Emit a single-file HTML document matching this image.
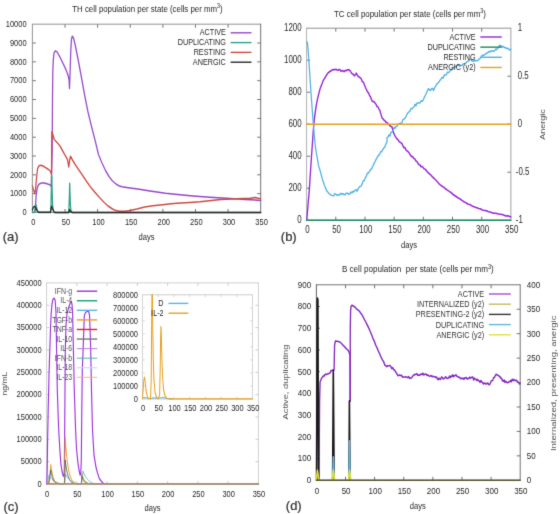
<!DOCTYPE html>
<html><head><meta charset="utf-8"><style>
html,body{margin:0;padding:0;background:#fff;}
svg{display:block;}
text{font-family:"Liberation Sans", sans-serif;}
</style></head><body>
<svg width="560" height="514" viewBox="0 0 560 514">
<defs><filter id="bl" x="0" y="0" width="560" height="514" filterUnits="userSpaceOnUse" color-interpolation-filters="sRGB"><feConvolveMatrix order="3" kernelMatrix="0.01134 0.08382 0.01134 0.08382 0.61935 0.08382 0.01134 0.08382 0.01134" edgeMode="duplicate" preserveAlpha="true"/></filter></defs>
<rect width="560" height="514" fill="#fff"/>
<g filter="url(#bl)"><rect width="560" height="514" fill="#fff"/>
<g transform="scale(0.84 1)">
<text x="0" y="0" font-size="8.93" text-anchor="end" fill="#262626" transform="translate(31.67 215.20)">0</text>
<line x1="38.57" y1="193.67" x2="42.74" y2="193.67" stroke="#555" stroke-width="0.9"/>
<line x1="310.36" y1="193.67" x2="306.19" y2="193.67" stroke="#555" stroke-width="0.9"/>
<text x="0" y="0" font-size="8.93" text-anchor="end" fill="#262626" transform="translate(31.67 196.37)">1000</text>
<line x1="38.57" y1="174.84" x2="42.74" y2="174.84" stroke="#555" stroke-width="0.9"/>
<line x1="310.36" y1="174.84" x2="306.19" y2="174.84" stroke="#555" stroke-width="0.9"/>
<text x="0" y="0" font-size="8.93" text-anchor="end" fill="#262626" transform="translate(31.67 177.54)">2000</text>
<line x1="38.57" y1="156.01" x2="42.74" y2="156.01" stroke="#555" stroke-width="0.9"/>
<line x1="310.36" y1="156.01" x2="306.19" y2="156.01" stroke="#555" stroke-width="0.9"/>
<text x="0" y="0" font-size="8.93" text-anchor="end" fill="#262626" transform="translate(31.67 158.71)">3000</text>
<line x1="38.57" y1="137.18" x2="42.74" y2="137.18" stroke="#555" stroke-width="0.9"/>
<line x1="310.36" y1="137.18" x2="306.19" y2="137.18" stroke="#555" stroke-width="0.9"/>
<text x="0" y="0" font-size="8.93" text-anchor="end" fill="#262626" transform="translate(31.67 139.88)">4000</text>
<line x1="38.57" y1="118.35" x2="42.74" y2="118.35" stroke="#555" stroke-width="0.9"/>
<line x1="310.36" y1="118.35" x2="306.19" y2="118.35" stroke="#555" stroke-width="0.9"/>
<text x="0" y="0" font-size="8.93" text-anchor="end" fill="#262626" transform="translate(31.67 121.05)">5000</text>
<line x1="38.57" y1="99.52" x2="42.74" y2="99.52" stroke="#555" stroke-width="0.9"/>
<line x1="310.36" y1="99.52" x2="306.19" y2="99.52" stroke="#555" stroke-width="0.9"/>
<text x="0" y="0" font-size="8.93" text-anchor="end" fill="#262626" transform="translate(31.67 102.22)">6000</text>
<line x1="38.57" y1="80.69" x2="42.74" y2="80.69" stroke="#555" stroke-width="0.9"/>
<line x1="310.36" y1="80.69" x2="306.19" y2="80.69" stroke="#555" stroke-width="0.9"/>
<text x="0" y="0" font-size="8.93" text-anchor="end" fill="#262626" transform="translate(31.67 83.39)">7000</text>
<line x1="38.57" y1="61.86" x2="42.74" y2="61.86" stroke="#555" stroke-width="0.9"/>
<line x1="310.36" y1="61.86" x2="306.19" y2="61.86" stroke="#555" stroke-width="0.9"/>
<text x="0" y="0" font-size="8.93" text-anchor="end" fill="#262626" transform="translate(31.67 64.56)">8000</text>
<line x1="38.57" y1="43.03" x2="42.74" y2="43.03" stroke="#555" stroke-width="0.9"/>
<line x1="310.36" y1="43.03" x2="306.19" y2="43.03" stroke="#555" stroke-width="0.9"/>
<text x="0" y="0" font-size="8.93" text-anchor="end" fill="#262626" transform="translate(31.67 45.73)">9000</text>
<text x="0" y="0" font-size="8.93" text-anchor="end" fill="#262626" transform="translate(31.67 26.90)">10000</text>
<text x="0" y="0" font-size="8.93" text-anchor="middle" fill="#262626" transform="translate(39.64 225.00)">0</text>
<line x1="77.40" y1="212.50" x2="77.40" y2="209.00" stroke="#555" stroke-width="0.9"/>
<line x1="77.40" y1="24.20" x2="77.40" y2="27.70" stroke="#555" stroke-width="0.9"/>
<text x="0" y="0" font-size="8.93" text-anchor="middle" fill="#262626" transform="translate(78.47 225.00)">50</text>
<line x1="116.22" y1="212.50" x2="116.22" y2="209.00" stroke="#555" stroke-width="0.9"/>
<line x1="116.22" y1="24.20" x2="116.22" y2="27.70" stroke="#555" stroke-width="0.9"/>
<text x="0" y="0" font-size="8.93" text-anchor="middle" fill="#262626" transform="translate(117.30 225.00)">100</text>
<line x1="155.05" y1="212.50" x2="155.05" y2="209.00" stroke="#555" stroke-width="0.9"/>
<line x1="155.05" y1="24.20" x2="155.05" y2="27.70" stroke="#555" stroke-width="0.9"/>
<text x="0" y="0" font-size="8.93" text-anchor="middle" fill="#262626" transform="translate(156.12 225.00)">150</text>
<line x1="193.88" y1="212.50" x2="193.88" y2="209.00" stroke="#555" stroke-width="0.9"/>
<line x1="193.88" y1="24.20" x2="193.88" y2="27.70" stroke="#555" stroke-width="0.9"/>
<text x="0" y="0" font-size="8.93" text-anchor="middle" fill="#262626" transform="translate(194.95 225.00)">200</text>
<line x1="232.70" y1="212.50" x2="232.70" y2="209.00" stroke="#555" stroke-width="0.9"/>
<line x1="232.70" y1="24.20" x2="232.70" y2="27.70" stroke="#555" stroke-width="0.9"/>
<text x="0" y="0" font-size="8.93" text-anchor="middle" fill="#262626" transform="translate(233.78 225.00)">250</text>
<line x1="271.53" y1="212.50" x2="271.53" y2="209.00" stroke="#555" stroke-width="0.9"/>
<line x1="271.53" y1="24.20" x2="271.53" y2="27.70" stroke="#555" stroke-width="0.9"/>
<text x="0" y="0" font-size="8.93" text-anchor="middle" fill="#262626" transform="translate(272.60 225.00)">300</text>
<text x="0" y="0" font-size="8.93" text-anchor="middle" fill="#262626" transform="translate(311.43 225.00)">350</text>
<text x="0" y="0" font-size="9.05" text-anchor="middle" fill="#262626" transform="translate(174.40 239.50)">days</text>
<text x="0" y="0" font-size="13.40" text-anchor="start" fill="#333" transform="translate(3.33 241.20) scale(1.1548 1)" stroke="#333" stroke-width="0.25">(a)</text>
<text x="0" y="0" font-size="9.35" text-anchor="start" fill="#262626" transform="translate(86.07 11.80)">TH cell population per state (cells per mm<tspan font-size="6.3" dy="-3.4">3</tspan><tspan dy="3.4">)</tspan></text>
<line x1="38.57" y1="24.20" x2="310.36" y2="24.20" stroke="#8a8a8a" stroke-width="1"/>
<line x1="38.57" y1="212.50" x2="310.36" y2="212.50" stroke="#8a8a8a" stroke-width="1"/>
<line x1="38.57" y1="23.70" x2="38.57" y2="213.00" stroke="#888" stroke-width="1"/>
<line x1="310.36" y1="23.70" x2="310.36" y2="213.00" stroke="#666" stroke-width="1"/>
<polyline points="38.57,212.40 41.67,212.30 42.26,205.00 43.10,195.00 44.05,189.50 45.24,185.80 46.43,184.20 49.29,182.90 52.38,183.00 55.95,183.80 58.93,184.60 60.48,185.50 61.07,186.50 62.14,150.00 62.50,100.00 62.86,72.00 63.45,60.00 64.29,53.20 65.83,50.80 67.86,51.80 71.43,57.20 73.81,61.30 76.31,65.60 78.57,69.80 80.48,74.00 81.67,77.50 82.26,80.00 82.74,88.50 83.33,75.00 84.29,50.00 85.12,39.00 86.07,36.20 87.50,38.00 89.29,44.00 93.10,60.00 96.43,75.00 100.95,96.00 104.76,112.00 108.81,126.00 113.10,140.00 117.26,154.50 121.43,163.00 125.60,170.50 129.76,176.50 133.93,181.00 138.10,184.00 142.26,186.10 145.24,186.80 154.76,188.00 163.93,189.00 178.57,191.00 196.90,193.20 214.29,194.80 229.76,196.00 250.00,197.20 269.29,198.20 291.67,199.40 310.36,200.40" fill="none" stroke="#9448c8" stroke-width="1.5" stroke-linejoin="round" stroke-linecap="round" opacity="1"/>
<polyline points="38.57,212.40 41.07,212.00 42.02,208.00 42.74,204.40 43.45,207.00 44.64,211.50 46.43,212.40 60.24,212.40 60.71,205.00 61.07,190.00 61.31,175.00 61.67,176.00 62.14,192.00 62.62,205.00 63.33,210.50 64.52,212.40 81.67,212.40 82.26,205.00 82.62,195.00 82.98,183.20 83.33,193.00 83.81,205.00 84.52,210.50 85.71,212.40 310.36,212.40" fill="none" stroke="#2fa088" stroke-width="1.5" stroke-linejoin="round" stroke-linecap="round" opacity="1"/>
<polyline points="38.57,186.00 39.88,190.00 41.43,193.50 42.26,190.00 43.45,178.00 44.76,168.50 46.43,165.80 48.57,165.20 51.19,166.00 54.76,167.80 57.74,169.50 59.88,171.00 60.83,173.50 61.31,174.00 61.67,132.00 62.14,131.50 63.10,135.00 64.64,139.50 67.86,142.50 71.43,146.00 75.00,151.50 77.74,155.60 80.36,159.50 81.90,167.00 82.98,160.00 83.93,156.20 86.31,160.00 89.29,164.30 92.26,167.90 97.62,174.50 102.68,181.00 107.74,187.00 113.10,192.40 118.45,197.50 123.51,202.00 128.57,206.00 133.93,209.00 138.10,210.60 142.26,211.20 148.81,211.20 154.76,210.40 163.10,209.00 172.14,207.10 182.14,205.80 193.45,204.80 203.57,203.80 214.76,203.00 226.19,202.40 238.10,201.80 262.74,199.60 282.50,198.70 297.62,198.30 303.93,197.40 307.14,198.20 310.36,198.70" fill="none" stroke="#cc4a42" stroke-width="1.5" stroke-linejoin="round" stroke-linecap="round" opacity="1"/>
<polyline points="38.57,210.00 39.52,207.50 40.95,206.30 42.26,207.50 44.05,210.50 45.83,212.30 60.12,212.30 60.95,208.00 61.55,206.30 62.50,208.50 64.29,211.80 65.48,212.40 81.90,212.40 82.86,209.50 83.93,211.50 85.71,212.40 310.36,212.40" fill="none" stroke="#2a2a2a" stroke-width="1.5" stroke-linejoin="round" stroke-linecap="round" opacity="1"/>
<text x="0" y="0" font-size="8.63" text-anchor="end" fill="#262626" transform="translate(268.81 35.40)">ACTIVE</text>
<line x1="274.52" y1="32.80" x2="299.40" y2="32.80" stroke="#9448c8" stroke-width="1.4"/>
<text x="0" y="0" font-size="8.63" text-anchor="end" fill="#262626" transform="translate(268.81 45.20)">DUPLICATING</text>
<line x1="274.52" y1="42.60" x2="299.40" y2="42.60" stroke="#2fa088" stroke-width="1.4"/>
<text x="0" y="0" font-size="8.63" text-anchor="end" fill="#262626" transform="translate(268.81 55.00)">RESTING</text>
<line x1="274.52" y1="52.40" x2="299.40" y2="52.40" stroke="#cc4a42" stroke-width="1.4"/>
<text x="0" y="0" font-size="8.63" text-anchor="end" fill="#262626" transform="translate(268.81 64.80)">ANERGIC</text>
<line x1="274.52" y1="62.20" x2="299.40" y2="62.20" stroke="#2a2a2a" stroke-width="1.4"/>
<text x="0" y="0" font-size="10.13" text-anchor="end" fill="#262626" transform="translate(359.05 223.00) scale(0.9286 1)">0</text>
<line x1="365.00" y1="188.20" x2="369.17" y2="188.20" stroke="#555" stroke-width="0.9"/>
<text x="0" y="0" font-size="10.13" text-anchor="end" fill="#262626" transform="translate(359.05 191.00) scale(0.9286 1)">200</text>
<line x1="365.00" y1="156.20" x2="369.17" y2="156.20" stroke="#555" stroke-width="0.9"/>
<text x="0" y="0" font-size="10.13" text-anchor="end" fill="#262626" transform="translate(359.05 159.00) scale(0.9286 1)">400</text>
<line x1="365.00" y1="124.20" x2="369.17" y2="124.20" stroke="#555" stroke-width="0.9"/>
<text x="0" y="0" font-size="10.13" text-anchor="end" fill="#262626" transform="translate(359.05 127.00) scale(0.9286 1)">600</text>
<line x1="365.00" y1="92.20" x2="369.17" y2="92.20" stroke="#555" stroke-width="0.9"/>
<text x="0" y="0" font-size="10.13" text-anchor="end" fill="#262626" transform="translate(359.05 95.00) scale(0.9286 1)">800</text>
<line x1="365.00" y1="60.20" x2="369.17" y2="60.20" stroke="#555" stroke-width="0.9"/>
<text x="0" y="0" font-size="10.13" text-anchor="end" fill="#262626" transform="translate(359.05 63.00) scale(0.9286 1)">1000</text>
<text x="0" y="0" font-size="10.13" text-anchor="end" fill="#262626" transform="translate(359.05 31.00) scale(0.9286 1)">1200</text>
<text x="0" y="0" font-size="10.13" text-anchor="middle" fill="#262626" transform="translate(365.95 233.40) scale(0.9286 1)">0</text>
<line x1="399.74" y1="220.20" x2="399.74" y2="216.70" stroke="#555" stroke-width="0.9"/>
<line x1="399.74" y1="28.20" x2="399.74" y2="31.70" stroke="#555" stroke-width="0.9"/>
<text x="0" y="0" font-size="10.13" text-anchor="middle" fill="#262626" transform="translate(400.70 233.40) scale(0.9286 1)">50</text>
<line x1="434.49" y1="220.20" x2="434.49" y2="216.70" stroke="#555" stroke-width="0.9"/>
<line x1="434.49" y1="28.20" x2="434.49" y2="31.70" stroke="#555" stroke-width="0.9"/>
<text x="0" y="0" font-size="10.13" text-anchor="middle" fill="#262626" transform="translate(435.44 233.40) scale(0.9286 1)">100</text>
<line x1="469.23" y1="220.20" x2="469.23" y2="216.70" stroke="#555" stroke-width="0.9"/>
<line x1="469.23" y1="28.20" x2="469.23" y2="31.70" stroke="#555" stroke-width="0.9"/>
<text x="0" y="0" font-size="10.13" text-anchor="middle" fill="#262626" transform="translate(470.19 233.40) scale(0.9286 1)">150</text>
<line x1="503.98" y1="220.20" x2="503.98" y2="216.70" stroke="#555" stroke-width="0.9"/>
<line x1="503.98" y1="28.20" x2="503.98" y2="31.70" stroke="#555" stroke-width="0.9"/>
<text x="0" y="0" font-size="10.13" text-anchor="middle" fill="#262626" transform="translate(504.93 233.40) scale(0.9286 1)">200</text>
<line x1="538.72" y1="220.20" x2="538.72" y2="216.70" stroke="#555" stroke-width="0.9"/>
<line x1="538.72" y1="28.20" x2="538.72" y2="31.70" stroke="#555" stroke-width="0.9"/>
<text x="0" y="0" font-size="10.13" text-anchor="middle" fill="#262626" transform="translate(539.68 233.40) scale(0.9286 1)">250</text>
<line x1="573.47" y1="220.20" x2="573.47" y2="216.70" stroke="#555" stroke-width="0.9"/>
<line x1="573.47" y1="28.20" x2="573.47" y2="31.70" stroke="#555" stroke-width="0.9"/>
<text x="0" y="0" font-size="10.13" text-anchor="middle" fill="#262626" transform="translate(574.42 233.40) scale(0.9286 1)">300</text>
<text x="0" y="0" font-size="10.13" text-anchor="middle" fill="#262626" transform="translate(609.17 233.40) scale(0.9286 1)">350</text>
<text x="0" y="0" font-size="10.13" text-anchor="start" fill="#262626" transform="translate(616.31 31.00) scale(0.9286 1)">1</text>
<line x1="608.21" y1="76.20" x2="604.05" y2="76.20" stroke="#555" stroke-width="0.9"/>
<text x="0" y="0" font-size="10.13" text-anchor="start" fill="#262626" transform="translate(616.31 79.00) scale(0.9286 1)">0.5</text>
<line x1="608.21" y1="124.20" x2="604.05" y2="124.20" stroke="#555" stroke-width="0.9"/>
<text x="0" y="0" font-size="10.13" text-anchor="start" fill="#262626" transform="translate(616.31 127.00) scale(0.9286 1)">0</text>
<line x1="608.21" y1="172.20" x2="604.05" y2="172.20" stroke="#555" stroke-width="0.9"/>
<text x="0" y="0" font-size="10.13" text-anchor="start" fill="#262626" transform="translate(614.05 175.00) scale(0.9286 1)">-0.5</text>
<text x="0" y="0" font-size="10.13" text-anchor="start" fill="#262626" transform="translate(614.05 223.00) scale(0.9286 1)">-1</text>
<text x="0" y="0" font-size="9.74" text-anchor="middle" fill="#262626" transform="translate(486.90 248.30) scale(0.9286 1)">days</text>
<text x="0" y="0" font-size="13.40" text-anchor="start" fill="#333" transform="translate(334.29 241.00) scale(1.1548 1)" stroke="#333" stroke-width="0.25">(b)</text>
<text x="0" y="0" font-size="9.46" text-anchor="start" fill="#262626" transform="translate(397.62 16.60)">TC cell population per state (cells per mm<tspan font-size="6.3" dy="-3.4">3</tspan><tspan dy="3.4">)</tspan></text>
<text x="0" y="0" font-size="9.0" text-anchor="middle" fill="#4a4a4a" transform="translate(649.40 124.60) scale(1.0000 1) rotate(-90)">Anergic</text>
<line x1="365.00" y1="28.20" x2="608.21" y2="28.20" stroke="#858585" stroke-width="1"/>
<line x1="365.00" y1="220.20" x2="608.21" y2="220.20" stroke="#858585" stroke-width="1"/>
<line x1="365.00" y1="27.70" x2="365.00" y2="220.70" stroke="#aaa" stroke-width="1"/>
<line x1="608.21" y1="27.70" x2="608.21" y2="220.70" stroke="#999" stroke-width="1"/>
<polyline points="365.24,220.00 366.67,205.00 368.10,191.40 369.29,176.00 370.48,160.80 371.79,145.00 372.98,130.20 374.40,118.00 376.19,107.00 377.98,98.90 379.46,93.95 380.95,89.00 382.26,86.13 383.57,83.27 384.88,80.40 386.49,78.20 388.10,76.00 389.40,74.35 390.71,72.70 392.86,71.50 394.11,70.80 395.36,70.10 396.90,69.48 398.45,69.77 400.00,69.29 401.19,69.92 402.38,70.20 403.57,69.55 404.76,69.72 405.95,71.27 407.14,70.58 408.33,70.77 409.52,71.66 410.71,70.49 411.90,70.74 413.39,69.86 414.88,69.82 416.37,70.24 417.86,72.22 419.17,73.72 420.48,74.30 421.79,75.79 422.98,74.87 424.17,73.10 425.63,75.61 427.10,76.75 428.57,77.68 429.96,78.72 431.35,81.52 432.74,82.36 433.93,85.02 435.12,87.54 436.31,89.54 437.50,91.81 438.69,92.90 439.88,95.48 441.07,96.88 442.26,99.63 443.45,101.51 444.94,101.56 446.43,102.92 447.62,104.21 448.81,106.58 450.00,106.90 451.19,109.20 452.38,110.68 453.57,114.51 454.76,117.82 455.95,118.76 457.14,120.14 458.33,120.88 459.52,122.15 460.71,122.54 461.90,123.69 463.10,124.57 464.29,125.79 465.48,126.52 466.67,126.96 467.86,130.83 469.05,133.74 470.24,135.90 471.43,137.61 472.62,139.09 473.81,139.54 475.00,141.53 476.19,142.12 477.38,142.82 478.57,143.63 479.76,146.07 480.95,147.66 482.14,147.59 483.33,150.11 484.52,150.86 485.90,151.70 487.29,153.19 488.67,155.21 490.05,156.64 491.43,156.57 492.65,158.58 493.88,158.77 495.10,160.95 496.33,161.43 497.55,163.41 498.78,164.67 500.00,165.01 501.19,166.74 502.38,166.57 503.57,167.14 504.76,168.91 505.95,168.94 507.14,170.14 508.33,171.42 509.52,172.50 511.31,173.82 513.10,175.22 514.88,176.93 516.67,178.26 518.81,180.00 520.95,182.03 523.10,184.19 524.90,185.33 526.71,186.53 528.52,187.37 530.33,188.81 532.14,189.84 533.95,190.83 535.76,191.84 537.57,192.98 539.38,194.54 541.19,195.53 543.39,196.81 545.60,198.11 547.80,198.99 550.00,200.37 551.86,201.45 553.71,202.38 555.57,203.33 557.43,204.21 559.29,204.51 561.43,205.67 563.57,206.52 565.71,207.20 567.86,207.77 569.76,208.48 571.67,208.71 573.57,209.80 575.48,210.26 577.38,210.53 579.46,210.86 581.55,211.79 583.63,212.05 585.71,212.77 587.67,213.10 589.62,213.23 591.57,213.52 593.52,214.01 595.48,214.25 597.78,214.56 600.08,215.16 602.38,216.02 604.29,215.88 606.19,216.28 608.10,217.00" fill="none" stroke="#9424d8" stroke-width="1.6" stroke-linejoin="round" stroke-linecap="round" opacity="1"/>
<polyline points="365.00,220.20 608.21,220.20" fill="none" stroke="#1a8a60" stroke-width="1.6" stroke-linejoin="round" stroke-linecap="round" opacity="1"/>
<polyline points="365.24,41.50 366.07,43.00 367.26,55.00 369.05,78.00 370.83,100.00 372.98,124.00 374.17,135.25 375.36,146.50 376.59,152.63 377.82,158.77 379.05,164.90 380.30,168.45 381.55,172.00 383.81,179.20 385.06,182.35 386.31,185.50 387.50,187.95 388.69,190.40 390.18,191.97 391.67,193.53 393.13,194.35 394.60,195.37 396.07,195.63 397.38,195.83 398.69,193.66 400.00,194.42 401.43,195.38 402.86,194.63 404.29,195.08 405.71,193.25 406.96,194.13 408.21,193.74 409.46,194.50 410.71,194.66 411.90,193.18 413.10,193.38 414.29,193.26 415.48,194.42 416.67,193.71 417.86,192.00 419.05,193.03 420.24,191.21 421.46,191.86 422.68,190.38 423.90,189.70 425.12,191.22 426.85,188.06 428.57,186.37 429.88,186.13 431.19,183.95 432.50,180.74 433.69,180.42 434.88,177.69 436.07,176.19 437.26,173.35 438.87,172.97 440.48,170.42 441.87,169.33 443.25,167.47 444.64,164.46 445.86,162.75 447.07,160.49 448.29,158.60 449.50,156.58 450.71,155.26 451.93,154.51 453.14,151.77 454.36,151.83 455.57,149.66 456.79,148.18 458.10,147.10 459.40,144.16 460.71,141.59 460.71,137.46 461.90,137.12 463.10,134.86 464.29,136.05 465.48,132.33 466.67,132.30 467.86,130.88 469.05,127.44 470.24,128.30 471.43,126.54 472.62,126.17 474.05,124.25 475.48,123.67 476.90,123.30 478.25,123.17 479.60,119.67 480.95,119.06 482.14,118.11 483.33,116.81 484.52,114.16 485.71,112.85 486.90,111.89 488.10,111.11 489.29,108.51 490.48,108.80 491.67,107.78 492.86,106.79 494.05,104.31 495.24,105.65 496.43,103.10 497.62,102.98 498.81,102.91 500.00,102.92 501.35,100.81 502.70,101.27 504.05,99.60 505.26,97.07 506.48,95.06 507.69,92.73 508.90,90.49 510.12,88.63 511.33,89.82 512.55,90.49 513.76,88.66 514.98,88.41 516.19,90.47 517.40,87.93 518.62,86.11 519.83,84.20 521.05,83.45 522.26,82.42 523.59,80.49 524.92,79.29 526.25,77.37 527.58,78.15 528.91,75.09 530.24,74.99 531.45,74.72 532.67,72.15 533.88,72.45 535.10,71.91 536.31,70.19 537.66,69.82 539.01,67.60 540.36,67.61 541.71,66.26 543.06,67.08 544.40,65.15 545.75,65.21 547.10,66.13 548.45,65.52 549.80,65.51 551.15,64.08 552.50,63.87 553.85,63.70 555.20,62.45 556.55,61.34 557.90,60.89 559.25,59.62 560.60,59.43 561.94,61.06 563.29,61.28 564.64,60.83 565.99,60.83 567.34,60.76 568.69,60.50 570.04,59.20 571.39,58.62 572.74,57.11 574.09,55.28 575.44,55.50 576.79,54.75 578.13,53.86 579.48,53.08 580.83,52.57 582.16,51.43 583.49,51.92 584.82,50.72 586.15,50.90 587.48,51.26 588.81,50.82 590.02,49.09 591.24,49.66 592.45,48.15 593.67,47.14 594.88,45.03 596.10,46.38 597.31,45.91 598.52,47.02 599.74,46.74 600.95,47.70 602.17,47.82 603.38,48.65 604.60,48.17 605.81,49.32 607.02,50.02 608.10,49.00" fill="none" stroke="#4fb0e6" stroke-width="1.5" stroke-linejoin="round" stroke-linecap="round" opacity="1"/>
<polyline points="365.00,124.20 608.21,124.20" fill="none" stroke="#e8a020" stroke-width="1.6" stroke-linejoin="round" stroke-linecap="round" opacity="1"/>
<text x="0" y="0" font-size="9.29" text-anchor="end" fill="#262626" transform="translate(566.19 39.60) scale(0.9286 1)">ACTIVE</text>
<line x1="571.79" y1="37.00" x2="597.38" y2="37.00" stroke="#9424d8" stroke-width="1.4"/>
<text x="0" y="0" font-size="9.29" text-anchor="end" fill="#262626" transform="translate(566.19 49.75) scale(0.9286 1)">DUPLICATING</text>
<line x1="571.79" y1="47.15" x2="597.38" y2="47.15" stroke="#1a8a60" stroke-width="1.4"/>
<text x="0" y="0" font-size="9.29" text-anchor="end" fill="#262626" transform="translate(566.19 59.90) scale(0.9286 1)">RESTING</text>
<line x1="571.79" y1="57.30" x2="597.38" y2="57.30" stroke="#4fb0e6" stroke-width="1.4"/>
<text x="0" y="0" font-size="9.29" text-anchor="end" fill="#262626" transform="translate(566.19 70.05) scale(0.9286 1)">ANERGIC (y2)</text>
<line x1="571.79" y1="67.45" x2="597.38" y2="67.45" stroke="#e8a020" stroke-width="1.4"/>
<text x="0" y="0" font-size="8.93" text-anchor="end" fill="#262626" transform="translate(49.52 486.70)">0</text>
<line x1="55.48" y1="461.66" x2="59.05" y2="461.66" stroke="#bbb" stroke-width="0.8"/>
<line x1="307.62" y1="461.66" x2="304.05" y2="461.66" stroke="#bbb" stroke-width="0.8"/>
<text x="0" y="0" font-size="8.93" text-anchor="end" fill="#262626" transform="translate(49.52 464.36)">50000</text>
<line x1="55.48" y1="439.31" x2="59.05" y2="439.31" stroke="#bbb" stroke-width="0.8"/>
<line x1="307.62" y1="439.31" x2="304.05" y2="439.31" stroke="#bbb" stroke-width="0.8"/>
<text x="0" y="0" font-size="8.93" text-anchor="end" fill="#262626" transform="translate(49.52 442.01)">100000</text>
<line x1="55.48" y1="416.97" x2="59.05" y2="416.97" stroke="#bbb" stroke-width="0.8"/>
<line x1="307.62" y1="416.97" x2="304.05" y2="416.97" stroke="#bbb" stroke-width="0.8"/>
<text x="0" y="0" font-size="8.93" text-anchor="end" fill="#262626" transform="translate(49.52 419.67)">150000</text>
<line x1="55.48" y1="394.62" x2="59.05" y2="394.62" stroke="#bbb" stroke-width="0.8"/>
<line x1="307.62" y1="394.62" x2="304.05" y2="394.62" stroke="#bbb" stroke-width="0.8"/>
<text x="0" y="0" font-size="8.93" text-anchor="end" fill="#262626" transform="translate(49.52 397.32)">200000</text>
<line x1="55.48" y1="372.28" x2="59.05" y2="372.28" stroke="#bbb" stroke-width="0.8"/>
<line x1="307.62" y1="372.28" x2="304.05" y2="372.28" stroke="#bbb" stroke-width="0.8"/>
<text x="0" y="0" font-size="8.93" text-anchor="end" fill="#262626" transform="translate(49.52 374.98)">250000</text>
<line x1="55.48" y1="349.93" x2="59.05" y2="349.93" stroke="#bbb" stroke-width="0.8"/>
<line x1="307.62" y1="349.93" x2="304.05" y2="349.93" stroke="#bbb" stroke-width="0.8"/>
<text x="0" y="0" font-size="8.93" text-anchor="end" fill="#262626" transform="translate(49.52 352.63)">300000</text>
<line x1="55.48" y1="327.59" x2="59.05" y2="327.59" stroke="#bbb" stroke-width="0.8"/>
<line x1="307.62" y1="327.59" x2="304.05" y2="327.59" stroke="#bbb" stroke-width="0.8"/>
<text x="0" y="0" font-size="8.93" text-anchor="end" fill="#262626" transform="translate(49.52 330.29)">350000</text>
<line x1="55.48" y1="305.24" x2="59.05" y2="305.24" stroke="#bbb" stroke-width="0.8"/>
<line x1="307.62" y1="305.24" x2="304.05" y2="305.24" stroke="#bbb" stroke-width="0.8"/>
<text x="0" y="0" font-size="8.93" text-anchor="end" fill="#262626" transform="translate(49.52 307.94)">400000</text>
<text x="0" y="0" font-size="8.93" text-anchor="end" fill="#262626" transform="translate(49.52 285.60)">450000</text>
<text x="0" y="0" font-size="8.93" text-anchor="middle" fill="#262626" transform="translate(56.07 497.00)">0</text>
<line x1="91.50" y1="484.00" x2="91.50" y2="481.00" stroke="#bbb" stroke-width="0.8"/>
<line x1="91.50" y1="282.90" x2="91.50" y2="285.90" stroke="#bbb" stroke-width="0.8"/>
<text x="0" y="0" font-size="8.93" text-anchor="middle" fill="#262626" transform="translate(92.09 497.00)">50</text>
<line x1="127.52" y1="484.00" x2="127.52" y2="481.00" stroke="#bbb" stroke-width="0.8"/>
<line x1="127.52" y1="282.90" x2="127.52" y2="285.90" stroke="#bbb" stroke-width="0.8"/>
<text x="0" y="0" font-size="8.93" text-anchor="middle" fill="#262626" transform="translate(128.11 497.00)">100</text>
<line x1="163.54" y1="484.00" x2="163.54" y2="481.00" stroke="#bbb" stroke-width="0.8"/>
<line x1="163.54" y1="282.90" x2="163.54" y2="285.90" stroke="#bbb" stroke-width="0.8"/>
<text x="0" y="0" font-size="8.93" text-anchor="middle" fill="#262626" transform="translate(164.13 497.00)">150</text>
<line x1="199.56" y1="484.00" x2="199.56" y2="481.00" stroke="#bbb" stroke-width="0.8"/>
<line x1="199.56" y1="282.90" x2="199.56" y2="285.90" stroke="#bbb" stroke-width="0.8"/>
<text x="0" y="0" font-size="8.93" text-anchor="middle" fill="#262626" transform="translate(200.15 497.00)">200</text>
<line x1="235.58" y1="484.00" x2="235.58" y2="481.00" stroke="#bbb" stroke-width="0.8"/>
<line x1="235.58" y1="282.90" x2="235.58" y2="285.90" stroke="#bbb" stroke-width="0.8"/>
<text x="0" y="0" font-size="8.93" text-anchor="middle" fill="#262626" transform="translate(236.17 497.00)">250</text>
<line x1="271.60" y1="484.00" x2="271.60" y2="481.00" stroke="#bbb" stroke-width="0.8"/>
<line x1="271.60" y1="282.90" x2="271.60" y2="285.90" stroke="#bbb" stroke-width="0.8"/>
<text x="0" y="0" font-size="8.93" text-anchor="middle" fill="#262626" transform="translate(272.19 497.00)">300</text>
<text x="0" y="0" font-size="8.93" text-anchor="middle" fill="#262626" transform="translate(308.21 497.00)">350</text>
<text x="0" y="0" font-size="9.05" text-anchor="middle" fill="#262626" transform="translate(181.55 511.00)">days</text>
<text x="0" y="0" font-size="13.40" text-anchor="start" fill="#333" transform="translate(4.05 510.60) scale(1.1548 1)" stroke="#333" stroke-width="0.25">(c)</text>
<text x="0" y="0" font-size="8.6" text-anchor="middle" fill="#4a4a4a" transform="translate(8.69 383.60) scale(1.0000 1) rotate(-90)">ng/mL</text>
<line x1="55.48" y1="282.90" x2="307.62" y2="282.90" stroke="#cccccc" stroke-width="1"/>
<line x1="55.48" y1="484.00" x2="307.62" y2="484.00" stroke="#cccccc" stroke-width="1"/>
<line x1="55.48" y1="282.40" x2="55.48" y2="484.50" stroke="#cccccc" stroke-width="1"/>
<line x1="307.62" y1="282.40" x2="307.62" y2="484.50" stroke="#cccccc" stroke-width="1"/>
<polyline points="55.71,483.80 55.95,478.00 56.19,470.00 56.67,440.00 57.38,410.00 58.33,375.00 59.29,350.00 60.12,328.00 60.95,313.30 61.90,304.00 63.10,299.00 64.64,298.20 65.71,300.50 66.67,313.00 67.38,350.00 68.21,390.00 69.88,430.00 71.43,452.00 72.50,463.90 73.57,470.00 74.52,474.00 75.48,476.30 76.19,475.50 76.55,470.00 76.90,440.00 77.38,390.00 77.74,350.00 78.57,325.00 79.76,313.50 81.55,308.00 83.69,302.80 85.00,301.70 85.83,305.00 86.43,313.00 87.38,350.00 88.45,390.00 90.00,430.00 91.19,450.00 92.74,462.70 94.05,470.00 95.36,475.20 96.19,474.00 96.79,460.00 97.38,410.00 97.98,370.00 98.93,350.00 100.36,315.70 101.79,312.50 104.52,311.00 105.71,312.00 106.55,315.00 107.26,330.00 107.98,350.00 108.93,390.00 110.12,430.00 111.90,455.00 114.29,467.30 116.07,473.00 118.21,478.50 120.83,481.50 123.21,483.50 126.19,483.80" fill="none" stroke="#9b30e0" stroke-width="1.35" stroke-linejoin="round" stroke-linecap="round" opacity="1"/>
<polyline points="55.48,483.80 55.95,483.80 56.06,483.71 56.17,483.54 56.27,483.32 56.38,483.06 56.49,482.76 56.60,482.44 56.70,482.08 56.81,481.70 56.92,481.29 57.02,480.87 57.13,480.41 57.24,479.94 57.35,479.45 57.45,478.94 57.56,478.41 57.67,477.86 57.77,477.30 57.88,476.71 57.99,476.11 58.10,475.50 58.49,476.01 58.88,476.48 59.27,476.94 59.67,477.37 60.06,477.78 60.45,478.17 60.85,478.53 61.24,478.88 61.63,479.21 62.02,479.52 62.42,479.82 62.81,480.10 63.20,480.36 63.60,480.61 63.99,480.84 64.38,481.07 64.77,481.28 65.17,481.48 65.56,481.66 65.95,481.84 66.35,482.01 66.74,482.16 67.13,482.31 67.52,482.45 67.92,482.58 68.31,482.70 68.70,482.82 69.10,482.93 69.49,483.03 69.88,483.13 70.27,483.22 70.67,483.30 71.06,483.38 71.45,483.45 71.85,483.52 72.24,483.58 72.63,483.64 73.02,483.70 73.42,483.75 73.81,483.80 76.67,483.80 76.73,483.69 76.80,483.49 76.86,483.23 76.93,482.92 76.99,482.57 77.06,482.19 77.12,481.77 77.19,481.32 77.26,480.84 77.32,480.34 77.39,479.80 77.45,479.25 77.52,478.66 77.58,478.06 77.65,477.43 77.71,476.79 77.78,476.12 77.85,475.43 77.91,474.73 77.98,474.00 78.35,474.60 78.72,475.16 79.09,475.70 79.46,476.21 79.84,476.69 80.21,477.15 80.58,477.58 80.95,477.99 81.32,478.38 81.70,478.75 82.07,479.10 82.44,479.43 82.81,479.74 83.18,480.03 83.56,480.31 83.93,480.57 84.30,480.82 84.67,481.06 85.04,481.28 85.42,481.49 85.79,481.68 86.16,481.87 86.53,482.04 86.90,482.21 87.28,482.36 87.65,482.51 88.02,482.64 88.39,482.77 88.76,482.89 89.14,483.00 89.51,483.11 89.88,483.21 90.25,483.30 90.62,483.39 91.00,483.47 91.37,483.55 91.74,483.62 92.11,483.68 92.49,483.74 92.86,483.80 96.79,483.80 96.89,483.66 96.99,483.40 97.09,483.07 97.19,482.67 97.29,482.23 97.39,481.73 97.49,481.19 97.60,480.61 97.70,480.00 97.80,479.35 97.90,478.66 98.00,477.94 98.10,477.20 98.20,476.42 98.30,475.62 98.40,474.78 98.51,473.93 98.61,473.04 98.71,472.13 98.81,471.20 99.17,471.97 99.52,472.69 99.88,473.39 100.24,474.04 100.60,474.66 100.95,475.25 101.31,475.80 101.67,476.33 102.02,476.83 102.38,477.31 102.74,477.75 103.10,478.18 103.45,478.58 103.81,478.96 104.17,479.31 104.52,479.65 104.88,479.97 105.24,480.27 105.60,480.56 105.95,480.82 106.31,481.08 106.67,481.32 107.02,481.54 107.38,481.75 107.74,481.95 108.10,482.14 108.45,482.31 108.81,482.48 109.17,482.63 109.52,482.78 109.88,482.91 110.24,483.04 110.60,483.16 110.95,483.27 111.31,483.38 111.67,483.47 112.02,483.56 112.38,483.65 112.74,483.73 113.10,483.80 307.62,483.80" fill="none" stroke="#56b4e9" stroke-width="1.0" stroke-linejoin="round" stroke-linecap="round" opacity="1"/>
<polyline points="55.48,483.80 57.14,483.80 57.31,483.58 57.48,483.19 57.64,482.67 57.81,482.06 57.98,481.38 58.14,480.61 58.31,479.78 58.48,478.89 58.64,477.94 58.81,476.94 58.98,475.89 59.14,474.78 59.31,473.63 59.48,472.44 59.64,471.20 59.81,469.92 59.98,468.60 60.14,467.24 60.31,465.84 60.48,464.40 60.75,466.25 61.02,467.94 61.30,469.47 61.57,470.87 61.85,472.13 62.12,473.29 62.39,474.33 62.67,475.28 62.94,476.14 63.21,476.93 63.49,477.64 63.76,478.28 64.04,478.86 64.31,479.39 64.58,479.86 64.86,480.29 65.13,480.68 65.40,481.03 65.68,481.35 65.95,481.64 66.23,481.89 66.50,482.12 66.77,482.33 67.05,482.52 67.32,482.68 67.60,482.83 67.87,482.97 68.14,483.09 68.42,483.19 68.69,483.29 68.96,483.37 69.24,483.45 69.51,483.51 69.79,483.57 70.06,483.62 70.33,483.67 70.61,483.71 70.88,483.74 71.15,483.77 71.43,483.80 76.55,483.80 76.60,483.27 76.65,482.31 76.71,481.07 76.76,479.60 76.82,477.93 76.87,476.08 76.92,474.07 76.98,471.91 77.03,469.61 77.08,467.18 77.14,464.63 77.19,461.96 77.24,459.17 77.30,456.27 77.35,453.27 77.40,450.17 77.46,446.97 77.51,443.67 77.57,440.28 77.62,436.80 77.97,441.29 78.32,445.37 78.67,449.08 79.02,452.46 79.38,455.54 79.73,458.33 80.08,460.86 80.43,463.16 80.78,465.25 81.13,467.15 81.48,468.87 81.83,470.42 82.18,471.83 82.54,473.11 82.89,474.26 83.24,475.31 83.59,476.25 83.94,477.10 84.29,477.87 84.64,478.56 84.99,479.18 85.35,479.74 85.70,480.24 86.05,480.69 86.40,481.10 86.75,481.46 87.10,481.78 87.45,482.07 87.80,482.33 88.15,482.56 88.51,482.77 88.86,482.95 89.21,483.11 89.56,483.25 89.91,483.37 90.26,483.48 90.61,483.58 90.96,483.66 91.32,483.74 91.67,483.80 96.79,483.80 96.82,483.68 96.85,483.47 96.88,483.20 96.90,482.88 96.93,482.51 96.96,482.11 96.99,481.67 97.02,481.19 97.05,480.69 97.08,480.16 97.11,479.60 97.14,479.01 97.17,478.40 97.20,477.77 97.23,477.11 97.26,476.43 97.29,475.73 97.32,475.01 97.35,474.26 97.38,473.50 97.68,474.48 97.99,475.38 98.29,476.19 98.60,476.93 98.90,477.61 99.20,478.22 99.51,478.77 99.81,479.28 100.11,479.74 100.42,480.15 100.72,480.53 101.02,480.87 101.33,481.18 101.63,481.46 101.93,481.71 102.24,481.94 102.54,482.15 102.85,482.33 103.15,482.50 103.45,482.65 103.76,482.79 104.06,482.91 104.36,483.02 104.67,483.12 104.97,483.21 105.27,483.29 105.58,483.36 105.88,483.42 106.18,483.48 106.49,483.53 106.79,483.57 107.10,483.61 107.40,483.65 107.70,483.68 108.01,483.71 108.31,483.73 108.61,483.75 108.92,483.77 109.22,483.79 109.52,483.80 307.62,483.80" fill="none" stroke="#e6a020" stroke-width="1.1" stroke-linejoin="round" stroke-linecap="round" opacity="1"/>
<polyline points="55.48,483.80 57.74,483.80 57.88,483.65 58.01,483.36 58.15,483.00 58.29,482.57 58.42,482.07 58.56,481.53 58.70,480.94 58.83,480.31 58.97,479.63 59.11,478.92 59.24,478.17 59.38,477.39 59.52,476.57 59.65,475.72 59.79,474.84 59.93,473.93 60.07,472.99 60.20,472.02 60.34,471.02 60.48,470.00 60.72,471.32 60.96,472.52 61.21,473.61 61.45,474.60 61.70,475.50 61.94,476.32 62.18,477.07 62.43,477.74 62.67,478.35 62.92,478.91 63.16,479.42 63.40,479.87 63.65,480.29 63.89,480.66 64.14,481.00 64.38,481.31 64.62,481.58 64.87,481.83 65.11,482.06 65.36,482.26 65.60,482.44 65.85,482.61 66.09,482.76 66.33,482.89 66.58,483.01 66.82,483.11 67.07,483.21 67.31,483.29 67.55,483.37 67.80,483.44 68.04,483.50 68.29,483.55 68.53,483.60 68.77,483.64 69.02,483.68 69.26,483.71 69.51,483.74 69.75,483.76 69.99,483.78 70.24,483.80 76.67,483.80 76.71,483.53 76.76,483.04 76.81,482.41 76.86,481.66 76.90,480.81 76.95,479.87 77.00,478.85 77.05,477.75 77.10,476.59 77.14,475.35 77.19,474.05 77.24,472.69 77.29,471.28 77.33,469.80 77.38,468.28 77.43,466.70 77.48,465.07 77.52,463.39 77.57,461.67 77.62,459.90 77.94,462.18 78.26,464.26 78.58,466.15 78.90,467.87 79.23,469.43 79.55,470.85 79.87,472.14 80.19,473.31 80.51,474.37 80.83,475.33 81.15,476.21 81.48,477.00 81.80,477.71 82.12,478.36 82.44,478.95 82.76,479.48 83.08,479.96 83.40,480.39 83.73,480.78 84.05,481.13 84.37,481.45 84.69,481.73 85.01,481.99 85.33,482.22 85.65,482.43 85.98,482.61 86.30,482.77 86.62,482.92 86.94,483.05 87.26,483.17 87.58,483.27 87.90,483.37 88.23,483.45 88.55,483.52 88.87,483.58 89.19,483.64 89.51,483.69 89.83,483.73 90.15,483.77 90.48,483.80 96.79,483.80 96.82,483.71 96.85,483.54 96.88,483.33 96.90,483.08 96.93,482.79 96.96,482.47 96.99,482.12 97.02,481.75 97.05,481.35 97.08,480.94 97.11,480.50 97.14,480.04 97.17,479.56 97.20,479.06 97.23,478.54 97.26,478.00 97.29,477.45 97.32,476.88 97.35,476.30 97.38,475.70 97.62,476.47 97.87,477.18 98.11,477.82 98.36,478.40 98.60,478.93 98.85,479.41 99.09,479.85 99.33,480.24 99.58,480.60 99.82,480.93 100.07,481.23 100.31,481.49 100.55,481.74 100.80,481.96 101.04,482.16 101.29,482.34 101.53,482.50 101.77,482.65 102.02,482.78 102.26,482.90 102.51,483.00 102.75,483.10 102.99,483.19 103.24,483.26 103.48,483.33 103.73,483.40 103.97,483.45 104.21,483.50 104.46,483.55 104.70,483.59 104.95,483.62 105.19,483.65 105.43,483.68 105.68,483.71 105.92,483.73 106.17,483.75 106.41,483.76 106.65,483.78 106.90,483.79 107.14,483.80 307.62,483.80" fill="none" stroke="#506070" stroke-width="1.0" stroke-linejoin="round" stroke-linecap="round" opacity="1"/>
<polyline points="55.48,483.90 307.62,483.90" fill="none" stroke="#a89070" stroke-width="1.8" stroke-linejoin="round" stroke-linecap="round" opacity="1"/>
<text x="0" y="0" font-size="8.27" text-anchor="end" fill="#505050" transform="translate(85.95 293.90)">IFN-g</text>
<line x1="91.43" y1="291.20" x2="115.71" y2="291.20" stroke="#9b30e0" stroke-width="1.4"/>
<text x="0" y="0" font-size="8.27" text-anchor="end" fill="#505050" transform="translate(85.95 303.47)">IL-4</text>
<line x1="91.43" y1="300.77" x2="115.71" y2="300.77" stroke="#14a070" stroke-width="1.4"/>
<text x="0" y="0" font-size="8.27" text-anchor="end" fill="#505050" transform="translate(85.95 313.04)">IL-12</text>
<line x1="91.43" y1="310.34" x2="115.71" y2="310.34" stroke="#56b4e9" stroke-width="1.4"/>
<text x="0" y="0" font-size="8.27" text-anchor="end" fill="#505050" transform="translate(85.95 322.61)">TGF-b</text>
<line x1="91.43" y1="319.91" x2="115.71" y2="319.91" stroke="#e6a020" stroke-width="1.4"/>
<text x="0" y="0" font-size="8.27" text-anchor="end" fill="#505050" transform="translate(85.95 332.18)">TNF-a</text>
<line x1="91.43" y1="329.48" x2="115.71" y2="329.48" stroke="#e52020" stroke-width="1.4"/>
<text x="0" y="0" font-size="8.27" text-anchor="end" fill="#505050" transform="translate(85.95 341.75)">IL-10</text>
<line x1="91.43" y1="339.05" x2="115.71" y2="339.05" stroke="#777" stroke-width="1.4"/>
<text x="0" y="0" font-size="8.27" text-anchor="end" fill="#505050" transform="translate(85.95 351.32)">IL-6</text>
<line x1="91.43" y1="348.62" x2="115.71" y2="348.62" stroke="#b86ee8" stroke-width="1.0"/>
<text x="0" y="0" font-size="8.27" text-anchor="end" fill="#505050" transform="translate(85.95 360.89)">IFN-b</text>
<line x1="91.43" y1="358.19" x2="115.71" y2="358.19" stroke="#3ab898" stroke-width="1.0"/>
<text x="0" y="0" font-size="8.27" text-anchor="end" fill="#505050" transform="translate(85.95 370.46)">IL-18</text>
<line x1="91.43" y1="367.76" x2="115.71" y2="367.76" stroke="#b8e4f6" stroke-width="1.2"/>
<text x="0" y="0" font-size="8.27" text-anchor="end" fill="#505050" transform="translate(85.95 380.03)">IL-23</text>
<line x1="91.43" y1="377.33" x2="115.71" y2="377.33" stroke="#f2b860" stroke-width="1.0"/>
<rect x="169.52" y="294.8" width="131.19" height="104.19999999999999" fill="#fff" stroke="#ccc" stroke-width="1"/>
<text x="0" y="0" font-size="8.93" text-anchor="end" fill="#262626" transform="translate(164.29 401.70)">0</text>
<line x1="169.52" y1="385.98" x2="172.50" y2="385.98" stroke="#ccc" stroke-width="0.8"/>
<line x1="300.71" y1="385.98" x2="297.74" y2="385.98" stroke="#ccc" stroke-width="0.8"/>
<text x="0" y="0" font-size="8.93" text-anchor="end" fill="#262626" transform="translate(164.29 388.68)">100000</text>
<line x1="169.52" y1="372.95" x2="172.50" y2="372.95" stroke="#ccc" stroke-width="0.8"/>
<line x1="300.71" y1="372.95" x2="297.74" y2="372.95" stroke="#ccc" stroke-width="0.8"/>
<text x="0" y="0" font-size="8.93" text-anchor="end" fill="#262626" transform="translate(164.29 375.65)">200000</text>
<line x1="169.52" y1="359.93" x2="172.50" y2="359.93" stroke="#ccc" stroke-width="0.8"/>
<line x1="300.71" y1="359.93" x2="297.74" y2="359.93" stroke="#ccc" stroke-width="0.8"/>
<text x="0" y="0" font-size="8.93" text-anchor="end" fill="#262626" transform="translate(164.29 362.62)">300000</text>
<line x1="169.52" y1="346.90" x2="172.50" y2="346.90" stroke="#ccc" stroke-width="0.8"/>
<line x1="300.71" y1="346.90" x2="297.74" y2="346.90" stroke="#ccc" stroke-width="0.8"/>
<text x="0" y="0" font-size="8.93" text-anchor="end" fill="#262626" transform="translate(164.29 349.60)">400000</text>
<line x1="169.52" y1="333.88" x2="172.50" y2="333.88" stroke="#ccc" stroke-width="0.8"/>
<line x1="300.71" y1="333.88" x2="297.74" y2="333.88" stroke="#ccc" stroke-width="0.8"/>
<text x="0" y="0" font-size="8.93" text-anchor="end" fill="#262626" transform="translate(164.29 336.57)">500000</text>
<line x1="169.52" y1="320.85" x2="172.50" y2="320.85" stroke="#ccc" stroke-width="0.8"/>
<line x1="300.71" y1="320.85" x2="297.74" y2="320.85" stroke="#ccc" stroke-width="0.8"/>
<text x="0" y="0" font-size="8.93" text-anchor="end" fill="#262626" transform="translate(164.29 323.55)">600000</text>
<line x1="169.52" y1="307.83" x2="172.50" y2="307.83" stroke="#ccc" stroke-width="0.8"/>
<line x1="300.71" y1="307.83" x2="297.74" y2="307.83" stroke="#ccc" stroke-width="0.8"/>
<text x="0" y="0" font-size="8.93" text-anchor="end" fill="#262626" transform="translate(164.29 310.53)">700000</text>
<text x="0" y="0" font-size="8.93" text-anchor="end" fill="#262626" transform="translate(164.29 297.50)">800000</text>
<text x="0" y="0" font-size="8.93" text-anchor="middle" fill="#262626" transform="translate(170.24 411.00)">0</text>
<line x1="188.27" y1="399.00" x2="188.27" y2="396.50" stroke="#ccc" stroke-width="0.8"/>
<line x1="188.27" y1="294.80" x2="188.27" y2="297.30" stroke="#ccc" stroke-width="0.8"/>
<text x="0" y="0" font-size="8.93" text-anchor="middle" fill="#262626" transform="translate(188.98 411.00)">50</text>
<line x1="207.01" y1="399.00" x2="207.01" y2="396.50" stroke="#ccc" stroke-width="0.8"/>
<line x1="207.01" y1="294.80" x2="207.01" y2="297.30" stroke="#ccc" stroke-width="0.8"/>
<text x="0" y="0" font-size="8.93" text-anchor="middle" fill="#262626" transform="translate(207.72 411.00)">100</text>
<line x1="225.75" y1="399.00" x2="225.75" y2="396.50" stroke="#ccc" stroke-width="0.8"/>
<line x1="225.75" y1="294.80" x2="225.75" y2="297.30" stroke="#ccc" stroke-width="0.8"/>
<text x="0" y="0" font-size="8.93" text-anchor="middle" fill="#262626" transform="translate(226.46 411.00)">150</text>
<line x1="244.49" y1="399.00" x2="244.49" y2="396.50" stroke="#ccc" stroke-width="0.8"/>
<line x1="244.49" y1="294.80" x2="244.49" y2="297.30" stroke="#ccc" stroke-width="0.8"/>
<text x="0" y="0" font-size="8.93" text-anchor="middle" fill="#262626" transform="translate(245.20 411.00)">200</text>
<line x1="263.23" y1="399.00" x2="263.23" y2="396.50" stroke="#ccc" stroke-width="0.8"/>
<line x1="263.23" y1="294.80" x2="263.23" y2="297.30" stroke="#ccc" stroke-width="0.8"/>
<text x="0" y="0" font-size="8.93" text-anchor="middle" fill="#262626" transform="translate(263.95 411.00)">250</text>
<line x1="281.97" y1="399.00" x2="281.97" y2="396.50" stroke="#ccc" stroke-width="0.8"/>
<line x1="281.97" y1="294.80" x2="281.97" y2="297.30" stroke="#ccc" stroke-width="0.8"/>
<text x="0" y="0" font-size="8.93" text-anchor="middle" fill="#262626" transform="translate(282.69 411.00)">300</text>
<text x="0" y="0" font-size="8.93" text-anchor="middle" fill="#262626" transform="translate(301.43 411.00)">350</text>
<polyline points="169.52,398.00 171.90,397.50 176.19,398.30 180.36,398.50 182.14,397.80 186.90,398.30 190.48,398.00 194.05,397.50 198.81,398.50 204.76,398.90" fill="none" stroke="#56b4e9" stroke-width="1.1" stroke-linejoin="round" stroke-linecap="round" opacity="1"/>
<polyline points="169.52,398.80 170.24,392.00 170.95,382.00 171.90,377.00 172.86,382.00 173.81,390.00 175.24,396.00 176.79,398.30 179.17,398.80 180.00,380.00 180.48,330.00 180.95,294.80" fill="none" stroke="#e6a020" stroke-width="1.2" stroke-linejoin="round" stroke-linecap="round" opacity="1"/>
<polyline points="181.43,294.80 181.90,330.00 182.50,360.00 183.33,380.00 184.52,392.00 186.31,397.50 188.69,398.80 190.00,395.00 190.71,370.00 191.19,340.00 191.55,326.40 192.02,333.00 192.62,355.00 193.45,375.00 194.64,389.00 196.43,396.00 198.81,398.50 202.38,398.90 300.71,398.90" fill="none" stroke="#e6a020" stroke-width="1.2" stroke-linejoin="round" stroke-linecap="round" opacity="1"/>
<text x="0" y="0" font-size="8.63" text-anchor="end" fill="#262626" transform="translate(194.76 306.00)">D</text>
<line x1="200.60" y1="303.40" x2="224.17" y2="303.40" stroke="#56b4e9" stroke-width="1.4"/>
<text x="0" y="0" font-size="8.63" text-anchor="end" fill="#262626" transform="translate(194.76 316.00)">IL-2</text>
<line x1="200.60" y1="313.20" x2="224.17" y2="313.20" stroke="#e6a020" stroke-width="1.4"/>
<text x="0" y="0" font-size="9.76" text-anchor="end" fill="#262626" transform="translate(370.48 483.20) scale(0.9762 1)">0</text>
<line x1="376.67" y1="458.58" x2="380.83" y2="458.58" stroke="#555" stroke-width="0.9"/>
<text x="0" y="0" font-size="9.76" text-anchor="end" fill="#262626" transform="translate(370.48 461.48) scale(0.9762 1)">100</text>
<line x1="376.67" y1="436.86" x2="380.83" y2="436.86" stroke="#555" stroke-width="0.9"/>
<text x="0" y="0" font-size="9.76" text-anchor="end" fill="#262626" transform="translate(370.48 439.76) scale(0.9762 1)">200</text>
<line x1="376.67" y1="415.13" x2="380.83" y2="415.13" stroke="#555" stroke-width="0.9"/>
<text x="0" y="0" font-size="9.76" text-anchor="end" fill="#262626" transform="translate(370.48 418.03) scale(0.9762 1)">300</text>
<line x1="376.67" y1="393.41" x2="380.83" y2="393.41" stroke="#555" stroke-width="0.9"/>
<text x="0" y="0" font-size="9.76" text-anchor="end" fill="#262626" transform="translate(370.48 396.31) scale(0.9762 1)">400</text>
<line x1="376.67" y1="371.69" x2="380.83" y2="371.69" stroke="#555" stroke-width="0.9"/>
<text x="0" y="0" font-size="9.76" text-anchor="end" fill="#262626" transform="translate(370.48 374.59) scale(0.9762 1)">500</text>
<line x1="376.67" y1="349.97" x2="380.83" y2="349.97" stroke="#555" stroke-width="0.9"/>
<text x="0" y="0" font-size="9.76" text-anchor="end" fill="#262626" transform="translate(370.48 352.87) scale(0.9762 1)">600</text>
<line x1="376.67" y1="328.24" x2="380.83" y2="328.24" stroke="#555" stroke-width="0.9"/>
<text x="0" y="0" font-size="9.76" text-anchor="end" fill="#262626" transform="translate(370.48 331.14) scale(0.9762 1)">700</text>
<line x1="376.67" y1="306.52" x2="380.83" y2="306.52" stroke="#555" stroke-width="0.9"/>
<text x="0" y="0" font-size="9.76" text-anchor="end" fill="#262626" transform="translate(370.48 309.42) scale(0.9762 1)">800</text>
<text x="0" y="0" font-size="9.76" text-anchor="end" fill="#262626" transform="translate(370.48 287.70) scale(0.9762 1)">900</text>
<text x="0" y="0" font-size="9.76" text-anchor="start" fill="#262626" transform="translate(627.14 483.20) scale(0.9762 1)">0</text>
<line x1="619.29" y1="455.86" x2="615.12" y2="455.86" stroke="#555" stroke-width="0.9"/>
<text x="0" y="0" font-size="9.76" text-anchor="start" fill="#262626" transform="translate(627.14 458.76) scale(0.9762 1)">50</text>
<line x1="619.29" y1="431.43" x2="615.12" y2="431.43" stroke="#555" stroke-width="0.9"/>
<text x="0" y="0" font-size="9.76" text-anchor="start" fill="#262626" transform="translate(627.14 434.32) scale(0.9762 1)">100</text>
<line x1="619.29" y1="406.99" x2="615.12" y2="406.99" stroke="#555" stroke-width="0.9"/>
<text x="0" y="0" font-size="9.76" text-anchor="start" fill="#262626" transform="translate(627.14 409.89) scale(0.9762 1)">150</text>
<line x1="619.29" y1="382.55" x2="615.12" y2="382.55" stroke="#555" stroke-width="0.9"/>
<text x="0" y="0" font-size="9.76" text-anchor="start" fill="#262626" transform="translate(627.14 385.45) scale(0.9762 1)">200</text>
<line x1="619.29" y1="358.11" x2="615.12" y2="358.11" stroke="#555" stroke-width="0.9"/>
<text x="0" y="0" font-size="9.76" text-anchor="start" fill="#262626" transform="translate(627.14 361.01) scale(0.9762 1)">250</text>
<line x1="619.29" y1="333.68" x2="615.12" y2="333.68" stroke="#555" stroke-width="0.9"/>
<text x="0" y="0" font-size="9.76" text-anchor="start" fill="#262626" transform="translate(627.14 336.57) scale(0.9762 1)">300</text>
<line x1="619.29" y1="309.24" x2="615.12" y2="309.24" stroke="#555" stroke-width="0.9"/>
<text x="0" y="0" font-size="9.76" text-anchor="start" fill="#262626" transform="translate(627.14 312.14) scale(0.9762 1)">350</text>
<text x="0" y="0" font-size="9.76" text-anchor="start" fill="#262626" transform="translate(627.14 287.70) scale(0.9762 1)">400</text>
<text x="0" y="0" font-size="9.76" text-anchor="middle" fill="#262626" transform="translate(377.38 494.20) scale(0.9762 1)">0</text>
<line x1="411.33" y1="480.30" x2="411.33" y2="476.80" stroke="#555" stroke-width="0.9"/>
<line x1="411.33" y1="284.80" x2="411.33" y2="288.30" stroke="#555" stroke-width="0.9"/>
<text x="0" y="0" font-size="9.76" text-anchor="middle" fill="#262626" transform="translate(412.04 494.20) scale(0.9762 1)">50</text>
<line x1="445.99" y1="480.30" x2="445.99" y2="476.80" stroke="#555" stroke-width="0.9"/>
<line x1="445.99" y1="284.80" x2="445.99" y2="288.30" stroke="#555" stroke-width="0.9"/>
<text x="0" y="0" font-size="9.76" text-anchor="middle" fill="#262626" transform="translate(446.70 494.20) scale(0.9762 1)">100</text>
<line x1="480.65" y1="480.30" x2="480.65" y2="476.80" stroke="#555" stroke-width="0.9"/>
<line x1="480.65" y1="284.80" x2="480.65" y2="288.30" stroke="#555" stroke-width="0.9"/>
<text x="0" y="0" font-size="9.76" text-anchor="middle" fill="#262626" transform="translate(481.36 494.20) scale(0.9762 1)">150</text>
<line x1="515.31" y1="480.30" x2="515.31" y2="476.80" stroke="#555" stroke-width="0.9"/>
<line x1="515.31" y1="284.80" x2="515.31" y2="288.30" stroke="#555" stroke-width="0.9"/>
<text x="0" y="0" font-size="9.76" text-anchor="middle" fill="#262626" transform="translate(516.02 494.20) scale(0.9762 1)">200</text>
<line x1="549.97" y1="480.30" x2="549.97" y2="476.80" stroke="#555" stroke-width="0.9"/>
<line x1="549.97" y1="284.80" x2="549.97" y2="288.30" stroke="#555" stroke-width="0.9"/>
<text x="0" y="0" font-size="9.76" text-anchor="middle" fill="#262626" transform="translate(550.68 494.20) scale(0.9762 1)">250</text>
<line x1="584.63" y1="480.30" x2="584.63" y2="476.80" stroke="#555" stroke-width="0.9"/>
<line x1="584.63" y1="284.80" x2="584.63" y2="288.30" stroke="#555" stroke-width="0.9"/>
<text x="0" y="0" font-size="9.76" text-anchor="middle" fill="#262626" transform="translate(585.34 494.20) scale(0.9762 1)">300</text>
<text x="0" y="0" font-size="9.76" text-anchor="middle" fill="#262626" transform="translate(620.00 494.20) scale(0.9762 1)">350</text>
<text x="0" y="0" font-size="9.74" text-anchor="middle" fill="#262626" transform="translate(497.38 509.00) scale(0.9286 1)">days</text>
<text x="0" y="0" font-size="13.40" text-anchor="start" fill="#333" transform="translate(340.24 509.90) scale(1.1548 1)" stroke="#333" stroke-width="0.25">(d)</text>
<text x="0" y="0" font-size="9.20" text-anchor="start" fill="#262626" transform="translate(407.02 272.30) scale(1.0476 1)">B cell population&#160; per state (cells per mm<tspan font-size="6.3" dy="-3.4">3</tspan><tspan dy="3.4">)</tspan></text>
<text x="0" y="0" font-size="9.3" text-anchor="middle" fill="#505050" transform="translate(343.10 382.00) scale(1.0000 1) rotate(-90)">Active, duplicating</text>
<text x="0" y="0" font-size="9.55" text-anchor="middle" fill="#505050" transform="translate(661.90 383.30) scale(1.0000 1) rotate(-90)">Internalized, presenting, anergic</text>
<line x1="376.67" y1="284.80" x2="619.29" y2="284.80" stroke="#666" stroke-width="1"/>
<line x1="376.67" y1="480.30" x2="619.29" y2="480.30" stroke="#666" stroke-width="1"/>
<line x1="376.67" y1="284.30" x2="376.67" y2="480.80" stroke="#555" stroke-width="1"/>
<line x1="619.29" y1="284.30" x2="619.29" y2="480.80" stroke="#666" stroke-width="1"/>
<polyline points="379.76,480.00 380.12,440.00 380.48,400.00 381.07,382.00 382.74,378.40 384.52,376.13 385.56,376.37 386.59,374.79 387.62,374.32 388.75,374.59 389.88,373.81 391.01,373.73 392.14,373.19 393.10,372.84 394.05,370.61 395.24,370.47 396.43,370.30" fill="none" stroke="#8428bc" stroke-width="1.6" stroke-linejoin="round" stroke-linecap="round" opacity="1"/>
<polyline points="396.43,370.30 397.74,370.00 397.74,370.00 398.33,345.00 399.29,341.00 401.19,341.20 404.76,342.00 410.36,346.80 415.00,351.00" fill="none" stroke="#8428bc" stroke-width="1.6" stroke-linejoin="round" stroke-linecap="round" opacity="1"/>
<polyline points="415.00,351.00 416.67,355.00 416.90,401.00" fill="none" stroke="#8428bc" stroke-width="1.6" stroke-linejoin="round" stroke-linecap="round" opacity="1"/>
<polyline points="416.90,401.00 417.02,330.00 417.38,310.00 418.10,306.00 419.05,305.20 420.54,306.00 422.02,306.80 423.21,307.71 424.40,308.79 425.60,309.73 426.85,310.41 428.10,311.41 429.29,312.95 430.48,314.12 432.38,317.05 433.93,319.65 435.36,321.93 436.79,324.25 438.81,327.73 440.24,330.27 441.67,333.45 442.94,335.80 444.21,338.96 445.48,340.85 447.14,344.86 448.81,347.66 450.00,350.42 451.19,352.40 452.38,354.72 453.87,357.67 455.36,360.00 456.73,361.67 458.10,365.08 459.29,365.71 460.48,366.77 461.67,365.68 462.98,365.80 464.29,365.58 465.36,366.51 466.43,368.56 467.50,367.71 468.57,369.48 470.00,370.46 471.43,372.47 472.44,373.62 473.45,375.48 474.46,375.68 475.48,374.94 477.14,375.62 478.18,375.28 479.22,377.17 480.26,377.01 481.29,377.00 482.33,377.05 483.37,376.84 484.40,377.37 485.48,377.44 486.55,376.52 487.62,378.53 488.69,378.07 489.76,377.99 490.83,376.72 491.90,375.59 492.98,374.65 494.05,374.67 495.12,374.22 496.19,373.56 497.26,375.23 498.33,375.03 499.40,375.36 500.48,374.45 501.55,373.94 502.51,374.66 503.48,373.27 504.44,374.89 505.41,374.50 506.38,374.01 507.34,374.29 508.31,375.34 509.27,374.85 510.24,375.59 511.28,376.24 512.32,375.96 513.35,375.53 514.39,376.73 515.43,376.33 516.47,376.59 517.51,376.75 518.55,377.46 519.59,376.96 520.63,378.73 521.67,379.78 522.63,378.21 523.59,378.97 524.55,379.43 525.52,377.01 526.48,377.17 527.44,378.80 528.40,378.78 529.37,378.16 530.33,376.82 531.29,377.38 532.25,378.46 533.21,378.40 534.17,377.92 535.12,376.09 536.07,377.52 537.02,376.01 537.98,376.63 538.93,374.86 539.88,376.76 540.83,375.54 541.79,375.58 542.86,374.76 543.93,376.33 545.00,376.75 546.07,377.29 547.14,377.20 548.21,378.67 549.29,378.17 550.36,378.57 551.32,378.14 552.28,379.41 553.24,377.84 554.21,378.05 555.17,377.56 556.13,378.97 557.09,378.66 558.06,378.55 559.02,377.15 559.98,378.11 560.94,377.78 561.90,377.04 562.86,377.15 563.81,380.08 564.76,378.14 565.71,378.95 566.67,379.21 567.62,380.40 568.57,379.39 569.52,380.76 570.48,380.83 571.43,382.39 572.38,380.57 573.33,381.77 574.40,382.49 575.48,384.02 576.55,383.14 577.62,383.33 578.69,384.14 579.76,383.47 580.83,383.08 581.90,384.60 582.87,384.60 583.84,383.09 584.80,380.77 585.77,380.81 586.73,380.17 587.70,377.57 588.66,377.36 589.63,375.69 590.60,374.34 592.02,375.05 593.45,375.43 594.40,376.61 595.36,376.60 596.31,378.33 597.26,378.33 598.21,380.87 599.17,381.26 600.12,380.03 601.07,382.35 602.02,381.15 602.98,382.22 603.93,382.73 604.88,382.47 605.85,381.84 606.83,381.70 607.80,380.41 608.77,381.78 609.74,379.31 610.71,380.64 611.67,379.47 612.62,380.09 613.57,380.71 614.52,380.19 615.48,380.83 616.43,381.84 617.38,382.45 618.33,383.98 619.29,383.40" fill="none" stroke="#8428bc" stroke-width="1.6" stroke-linejoin="round" stroke-linecap="round" opacity="1"/>
<polyline points="376.90,480.00 377.26,400.00 377.62,300.00 377.98,298.20 378.45,300.00 378.81,400.00 379.29,480.00" fill="none" stroke="#1a1a1a" stroke-width="1.9" stroke-linejoin="round" stroke-linecap="round" opacity="1"/>
<polyline points="395.95,480.00 396.43,420.00 396.79,370.50 397.26,420.00 397.74,480.00" fill="none" stroke="#1a1a1a" stroke-width="1.9" stroke-linejoin="round" stroke-linecap="round" opacity="1"/>
<polyline points="415.36,480.00 415.71,440.00 415.95,401.00 416.31,440.00 416.79,480.00" fill="none" stroke="#1a1a1a" stroke-width="1.9" stroke-linejoin="round" stroke-linecap="round" opacity="1"/>
<polyline points="396.07,480.00 396.55,465.00 396.79,457.00 397.14,465.00 397.62,480.00" fill="none" stroke="#60b8e0" stroke-width="1.8" stroke-linejoin="round" stroke-linecap="round" opacity="1"/>
<polyline points="415.48,480.00 415.83,455.00 415.95,441.00 416.19,455.00 416.67,480.00" fill="none" stroke="#60b8e0" stroke-width="1.8" stroke-linejoin="round" stroke-linecap="round" opacity="1"/>
<polyline points="376.43,480.00 377.50,472.00 377.86,470.00 378.33,472.00 379.64,480.00" fill="none" stroke="#e0e040" stroke-width="1.6" stroke-linejoin="round" stroke-linecap="round" opacity="1"/>
<polyline points="395.36,480.00 396.43,472.00 396.79,470.00 397.26,472.00 398.57,480.00" fill="none" stroke="#e0e040" stroke-width="1.6" stroke-linejoin="round" stroke-linecap="round" opacity="1"/>
<polyline points="414.64,480.00 415.71,472.00 416.07,470.00 416.55,472.00 417.86,480.00" fill="none" stroke="#e0e040" stroke-width="1.6" stroke-linejoin="round" stroke-linecap="round" opacity="1"/>
<polyline points="376.67,480.20 619.29,480.20" fill="none" stroke="#55552e" stroke-width="1.4" stroke-linejoin="round" stroke-linecap="round" opacity="1"/>
<text x="0" y="0" font-size="9.12" text-anchor="end" fill="#333" transform="translate(576.43 296.90) scale(0.9524 1)">ACTIVE</text>
<line x1="582.02" y1="294.00" x2="608.10" y2="294.00" stroke="#a050d8" stroke-width="1.4"/>
<text x="0" y="0" font-size="9.12" text-anchor="end" fill="#333" transform="translate(576.43 307.10) scale(0.9524 1)">INTERNALIZED (y2)</text>
<line x1="582.02" y1="304.20" x2="608.10" y2="304.20" stroke="#c8b860" stroke-width="1.4"/>
<text x="0" y="0" font-size="9.12" text-anchor="end" fill="#333" transform="translate(576.43 317.30) scale(0.9524 1)">PRESENTING-2 (y2)</text>
<line x1="582.02" y1="314.40" x2="608.10" y2="314.40" stroke="#333" stroke-width="1.4"/>
<text x="0" y="0" font-size="9.12" text-anchor="end" fill="#333" transform="translate(576.43 327.50) scale(0.9524 1)">DUPLICATING</text>
<line x1="582.02" y1="324.60" x2="608.10" y2="324.60" stroke="#60b8e0" stroke-width="1.4"/>
<text x="0" y="0" font-size="9.12" text-anchor="end" fill="#333" transform="translate(576.43 337.70) scale(0.9524 1)">ANERGIC (y2)</text>
<line x1="582.02" y1="334.80" x2="608.10" y2="334.80" stroke="#e0e040" stroke-width="1.4"/></g></g>
</svg>
</body></html>
